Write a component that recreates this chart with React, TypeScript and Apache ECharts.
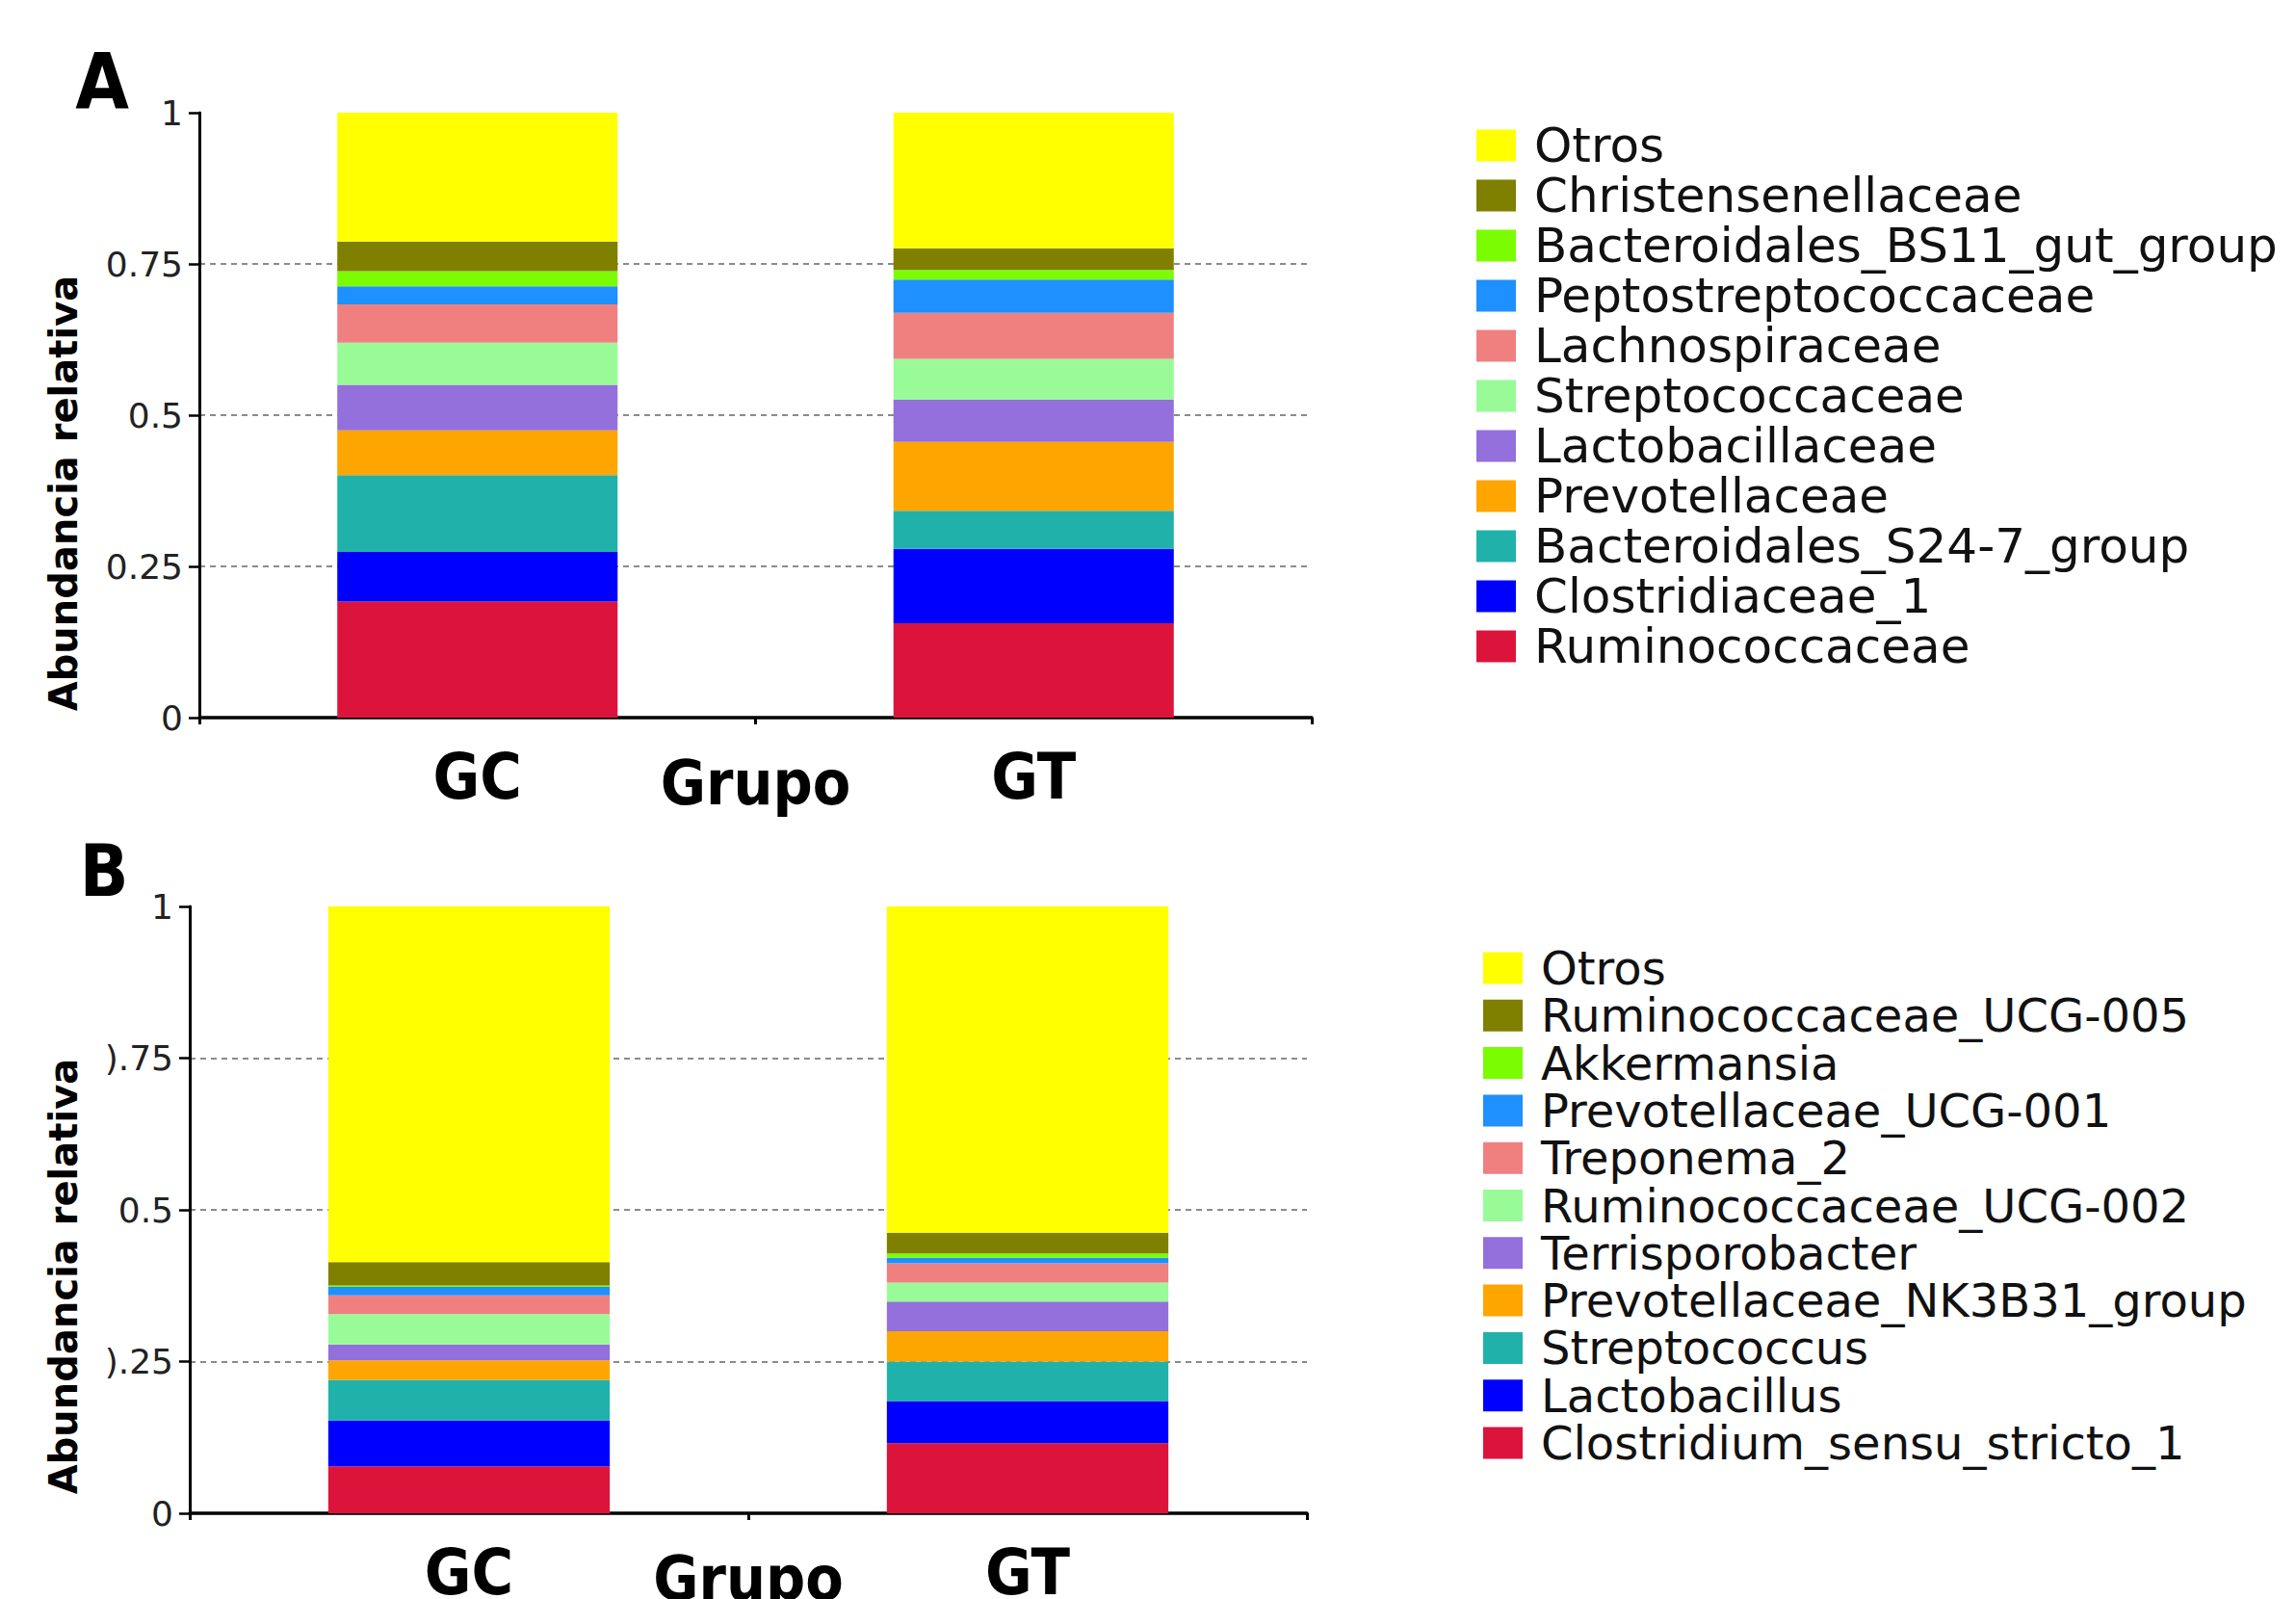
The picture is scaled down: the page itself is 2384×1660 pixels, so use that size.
import React, { useEffect, useRef } from "react";
import * as echarts from "echarts";

const categories = ["GC", "GT"];
const groupAxisName = "Grupo";
const yAxisTitle = "Abundancia relativa";

const familyNames = [
  "Ruminococcaceae",
  "Clostridiaceae_1",
  "Bacteroidales_S24-7_group",
  "Prevotellaceae",
  "Lactobacillaceae",
  "Streptococcaceae",
  "Lachnospiraceae",
  "Peptostreptococcaceae",
  "Bacteroidales_BS11_gut_group",
  "Christensenellaceae",
  "Otros",
];
const familyGC = [0.192, 0.082, 0.127, 0.074, 0.075, 0.07, 0.063, 0.03, 0.025, 0.049, 0.213];
const familyGT = [0.156, 0.123, 0.063, 0.114, 0.07, 0.067, 0.076, 0.055, 0.016, 0.036, 0.224];

const genusNames = [
  "Clostridium_sensu_stricto_1",
  "Lactobacillus",
  "Streptococcus",
  "Prevotellaceae_NK3B31_group",
  "Terrisporobacter",
  "Ruminococcaceae_UCG-002",
  "Treponema_2",
  "Prevotellaceae_UCG-001",
  "Akkermansia",
  "Ruminococcaceae_UCG-005",
  "Otros",
];
const genusGC = [0.0775, 0.0755, 0.067, 0.032, 0.026, 0.05, 0.031, 0.014, 0.0025, 0.0385, 0.586];
const genusGT = [0.1155, 0.0695, 0.065, 0.05, 0.049, 0.031, 0.032, 0.009, 0.007, 0.0345, 0.5375];

const segmentColors = [
  "#DC143C",
  "#0000FF",
  "#20B2AA",
  "#FFA500",
  "#9370DB",
  "#98FB98",
  "#F08080",
  "#1E90FF",
  "#7CFC00",
  "#808000",
  "#FFFF00",
];

const yTickLabelsA = ["0", "0.25", "0.5", "0.75", "1"];
const yTickLabelsB = ["0", ").25", "0.5", ").75", "1"];

const CAT_FONT = "'Liberation Sans Narrow', 'DejaVu Sans Condensed', 'Liberation Sans', Arial, sans-serif";

function makeXAxis(gridIndex: number) {
  return {
    type: "category",
    gridIndex,
    data: categories,
    name: groupAxisName,
    nameLocation: "middle",
    nameGap: 36,
    nameMoveOverlap: false,
    nameTextStyle: {
      fontFamily: CAT_FONT,
      fontWeight: "bold",
      fontSize: 64,
      color: "#000",
      verticalAlign: "top",
    },
    axisLine: { show: true, lineStyle: { color: "#000", width: 3.5 } },
    axisTick: { show: true, length: 7, lineStyle: { color: "#000", width: 3 } },
    axisLabel: { margin: 28, fontFamily: CAT_FONT, fontWeight: "bold", fontSize: 66, color: "#000" },
    splitLine: { show: false },
  };
}

function makeYAxis(gridIndex: number, labels: string[]) {
  return {
    type: "value",
    gridIndex,
    min: 0,
    max: 1,
    interval: 0.25,
    axisLine: { show: true, lineStyle: { color: "#000", width: 3 } },
    axisTick: { show: true, length: 11, lineStyle: { color: "#000", width: 2.5 } },
    axisLabel: {
      margin: 17,
      fontFamily: "'DejaVu Sans', sans-serif",
      fontSize: 36,
      color: "#222",
      formatter: (v: number) => labels[Math.round(v / 0.25)],
    },
    splitLine: {
      show: true,
      lineStyle: {
        color: ["rgba(0,0,0,0)", "#666", "#666", "#666", "rgba(0,0,0,0)"],
        width: 1.5,
        type: [6, 5],
      },
    },
  };
}

function makeSeries(names: string[], gc: number[], gt: number[], idx: number, stack: string) {
  return names.map((name, i) => ({
    name,
    type: "bar",
    stack,
    xAxisIndex: idx,
    yAxisIndex: idx,
    barWidth: "50.4%",
    data: [gc[i], gt[i]],
    itemStyle: { color: segmentColors[i] },
    emphasis: { disabled: true },
  }));
}

function makeLegend(names: string[], left: number, top: number, gap: number, fontSize: number) {
  return {
    orient: "vertical",
    left,
    top,
    padding: 0,
    itemWidth: 41,
    itemHeight: 33,
    itemGap: gap,
    icon: "rect",
    selectedMode: false,
    data: names.slice().reverse(),
    textStyle: {
      fontFamily: "'DejaVu Sans', sans-serif",
      fontSize,
      color: "#111",
      padding: [0, 0, 0, 14],
    },
  };
}

export default function App() {
  const ref = useRef<HTMLDivElement>(null);
  useEffect(() => {
    if (!ref.current) return;
    const chart = echarts.init(ref.current, null, { renderer: "svg" });
    const option = {
      animation: false,
      backgroundColor: "#fff",
      grid: [
        { left: 207, top: 117, width: 1155, height: 628, containLabel: false, outerBoundsMode: "none" },
        { left: 197, top: 941, width: 1160, height: 630, containLabel: false, outerBoundsMode: "none" },
      ],
      xAxis: [makeXAxis(0), makeXAxis(1)],
      yAxis: [makeYAxis(0, yTickLabelsA), makeYAxis(1, yTickLabelsB)],
      legend: [
        makeLegend(familyNames, 1533, 126, 2, 50),
        makeLegend(genusNames, 1540, 981, 1.3, 48),
      ],
      series: [
        ...makeSeries(familyNames, familyGC, familyGT, 0, "A"),
        ...makeSeries(genusNames, genusGC, genusGT, 1, "B"),
      ],
      graphic: [
        {
          type: "text",
          x: 106,
          y: 85,
          style: {
            text: "A",
            fontFamily: CAT_FONT,
            fontWeight: "bold",
            fontSize: 80,
            fill: "#000",
            textAlign: "center",
            textVerticalAlign: "middle",
          },
        },
        {
          type: "text",
          x: 108,
          y: 904,
          style: {
            text: "B",
            fontFamily: CAT_FONT,
            fontWeight: "bold",
            fontSize: 74,
            fill: "#000",
            textAlign: "center",
            textVerticalAlign: "middle",
          },
        },
        {
          type: "text",
          x: 66,
          y: 512,
          rotation: Math.PI / 2,
          style: {
            text: yAxisTitle,
            fontFamily: "'DejaVu Sans', sans-serif",
            fontWeight: "bold",
            fontSize: 40,
            fill: "#000",
            textAlign: "center",
            textVerticalAlign: "middle",
          },
        },
        {
          type: "text",
          x: 66,
          y: 1325,
          rotation: Math.PI / 2,
          style: {
            text: yAxisTitle,
            fontFamily: "'DejaVu Sans', sans-serif",
            fontWeight: "bold",
            fontSize: 40,
            fill: "#000",
            textAlign: "center",
            textVerticalAlign: "middle",
          },
        },
      ],
    };
    chart.setOption(option as any);
    return () => {
      chart.dispose();
    };
  }, []);
  return (
    <div
      ref={ref}
      style={{ position: "fixed", left: 0, top: 0, width: 2384, height: 1660, background: "#fff" }}
    />
  );
}
